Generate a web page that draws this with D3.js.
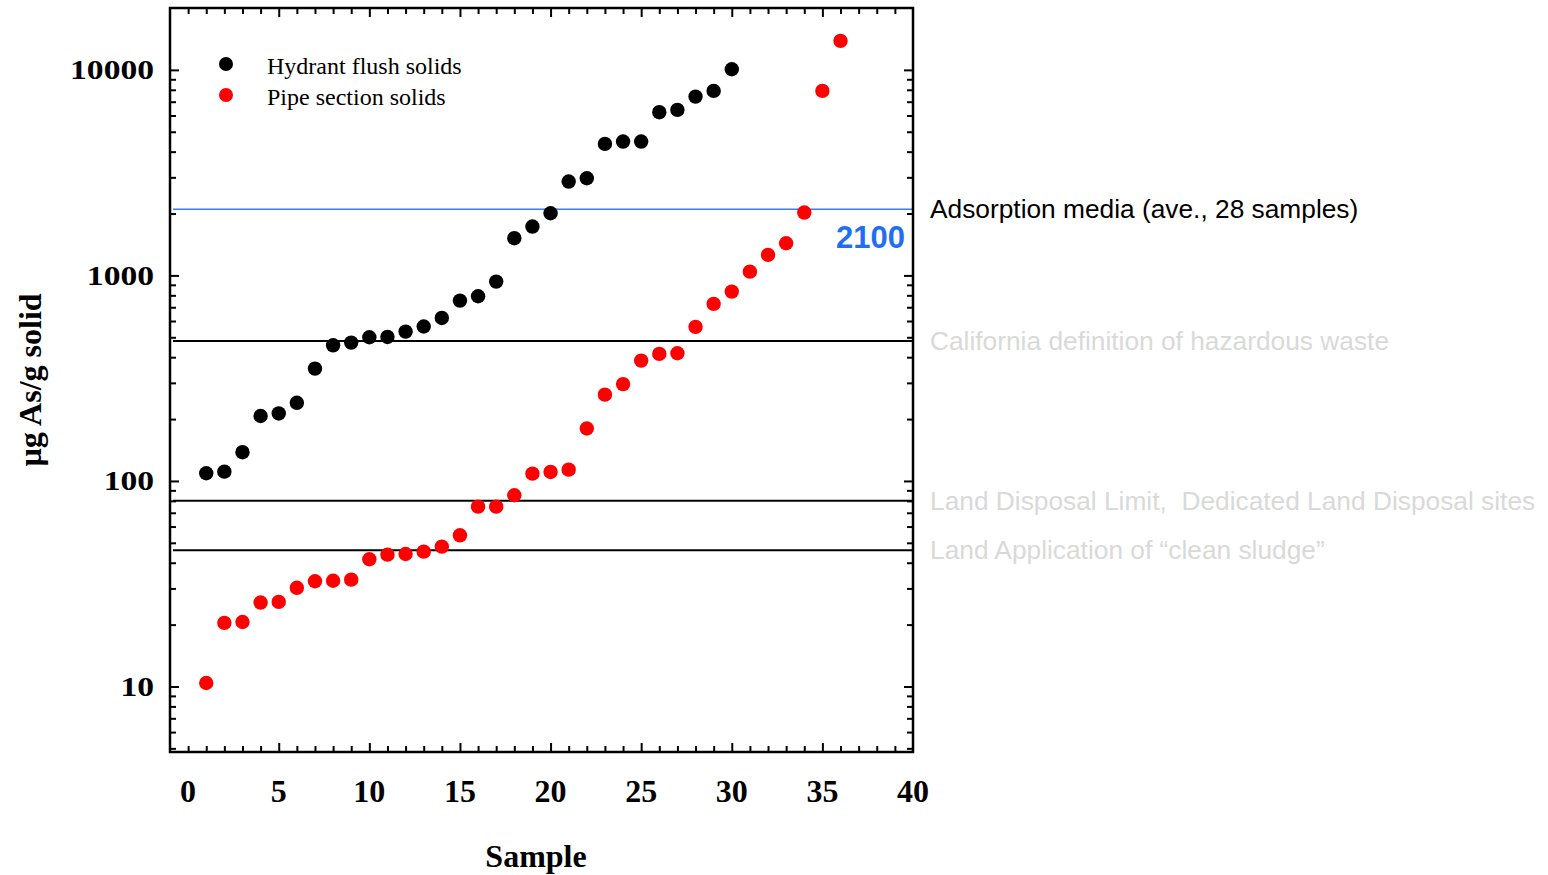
<!DOCTYPE html>
<html>
<head>
<meta charset="utf-8">
<script src="https://cdn.jsdelivr.net/npm/d3@7"></script>
<style>
  html, body { margin: 0; padding: 0; background: #ffffff; }
  svg { display: block; }
  text { white-space: pre; }
</style>
</head>
<body>
<svg id="chart" width="1548" height="875"></svg>
<script>
// Arsenic content of distribution-system solids, ranked by sample (log scale)
const hydrantSamples = d3.range(1, 31);
const hydrantValues = [
  109, 111, 138, 207, 213, 240, 352, 457, 471, 500,
  502, 533, 564, 621, 754, 792, 933, 1517, 1729, 2007,
  2862, 2970, 4364, 4480, 4480, 6225, 6389, 7413, 7902, 10070
];

const pipeSamples = d3.range(1, 37);
const pipeValues = [
  10.4, 20.4, 20.6, 25.6, 25.8, 30.2, 32.5, 32.7, 33.1, 41.6,
  43.8, 44.1, 45.3, 47.9, 54.4, 75, 75, 85.2, 108.5, 110.6,
  113.5, 180, 263, 296, 385, 415, 418, 562, 727, 834,
  1043, 1259, 1434, 2022, 7902, 13840
];

// Reference levels drawn across the plot
const refLabels = [
  "Adsorption media (ave., 28 samples)",
  "California definition of hazardous waste",
  "Land Disposal Limit,  Dedicated Land Disposal sites",
  "Land Application of \u201Cclean sludge\u201D"
];
const refValues = [2100, 480, 80, 46];

const seriesNames = ["Hydrant flush solids", "Pipe section solids"];
const seriesColors = ["#000000", "#ff0000"];

const xTickLabels = [0, 5, 10, 15, 20, 25, 30, 35, 40];
const yTickLabels = [10, 100, 1000, 10000];

const svg = d3.select("#chart");

const plotLeft = 170, plotRight = 913, plotTop = 8, plotBottom = 752;

const x = d3.scaleLinear().domain([-1, 40]).range([plotLeft, plotRight]);
const y = d3.scaleLog().domain([4.8, 20000]).range([plotBottom, plotTop]);

const serif = "'Liberation Serif', 'Times New Roman', serif";
const sans = "'Liberation Sans', Arial, sans-serif";

// ---- reference lines ----
const refColors = ["#3f7ae6", "#000000", "#000000", "#000000"];
const refWidths = [1.6, 2, 2, 2];
svg.append("g")
  .selectAll("line")
  .data(refValues)
  .join("line")
  .attr("x1", plotLeft + 3)
  .attr("x2", plotRight)
  .attr("y1", d => y(d))
  .attr("y2", d => y(d))
  .attr("stroke", (d, i) => refColors[i])
  .attr("stroke-width", (d, i) => refWidths[i]);

// ---- ticks (all pointing inward) ----
const majorX = d3.range(5, 40, 5);
const minorX = d3.range(0, 41).filter(v => v % 5 !== 0 || v === 0);
const majorY = yTickLabels;
const minorY = [];
[1, 10, 100, 1000, 10000].forEach(dec => {
  d3.range(2, 10).forEach(m => {
    const v = dec * m;
    if (v >= 5 && v < 20000) minorY.push(v);
  });
});

function tickAxis(axisFn, scale, values, size) {
  return axisFn(scale).tickValues(values).tickSize(size).tickFormat("");
}

const axes = svg.append("g").attr("class", "axes");

// bottom
axes.append("g").attr("transform", `translate(0,${plotBottom})`)
  .call(tickAxis(d3.axisBottom, x, majorX, -9));
axes.append("g").attr("transform", `translate(0,${plotBottom})`)
  .call(tickAxis(d3.axisBottom, x, minorX, -6));
// top
axes.append("g").attr("transform", `translate(0,${plotTop})`)
  .call(tickAxis(d3.axisTop, x, majorX, -9));
axes.append("g").attr("transform", `translate(0,${plotTop})`)
  .call(tickAxis(d3.axisTop, x, minorX, -6));
// left
axes.append("g").attr("transform", `translate(${plotLeft},0)`)
  .call(tickAxis(d3.axisLeft, y, majorY, -9));
axes.append("g").attr("transform", `translate(${plotLeft},0)`)
  .call(tickAxis(d3.axisLeft, y, minorY, -6));
// right
axes.append("g").attr("transform", `translate(${plotRight},0)`)
  .call(tickAxis(d3.axisRight, y, majorY, -9));
axes.append("g").attr("transform", `translate(${plotRight},0)`)
  .call(tickAxis(d3.axisRight, y, minorY, -6));

axes.selectAll(".domain").remove();
axes.selectAll(".tick line").attr("stroke", "#000").attr("stroke-width", 2);

// frame
svg.append("rect")
  .attr("x", plotLeft).attr("y", plotTop)
  .attr("width", plotRight - plotLeft).attr("height", plotBottom - plotTop)
  .attr("fill", "none")
  .attr("stroke", "#000")
  .attr("stroke-width", 2.5);

// ---- tick labels ----
svg.append("g")
  .selectAll("text")
  .data(xTickLabels)
  .join("text")
  .attr("x", d => x(d))
  .attr("y", 802)
  .attr("text-anchor", "middle")
  .attr("font-family", serif)
  .attr("font-weight", "bold")
  .attr("font-size", 32)
  .text(d => d);

svg.append("g")
  .selectAll("g")
  .data(yTickLabels)
  .join("g")
  .attr("transform", d => `translate(154,${y(d) + 9.5}) scale(1.2,1)`)
  .append("text")
  .attr("text-anchor", "end")
  .attr("font-family", serif)
  .attr("font-weight", "bold")
  .attr("font-size", 28)
  .text(d => d);

// ---- axis titles ----
svg.append("text")
  .attr("x", 536)
  .attr("y", 867)
  .attr("text-anchor", "middle")
  .attr("font-family", serif)
  .attr("font-weight", "bold")
  .attr("font-size", 32)
  .text("Sample");

svg.append("text")
  .attr("transform", "translate(41,380) rotate(-90)")
  .attr("text-anchor", "middle")
  .attr("font-family", serif)
  .attr("font-weight", "bold")
  .attr("font-size", 32)
  .text("\u00B5g As/g solid");

// ---- data points ----
const series = [
  { xs: hydrantSamples, vs: hydrantValues, color: seriesColors[0] },
  { xs: pipeSamples, vs: pipeValues, color: seriesColors[1] }
];
series.forEach(s => {
  svg.append("g")
    .selectAll("circle")
    .data(s.vs)
    .join("circle")
    .attr("cx", (d, i) => x(s.xs[i]))
    .attr("cy", d => y(d))
    .attr("r", 7.2)
    .attr("fill", s.color);
});

// ---- legend ----
const legend = svg.append("g");
seriesNames.forEach((name, i) => {
  const cy = 64 + i * 31;
  legend.append("circle")
    .attr("cx", 226).attr("cy", cy).attr("r", 7)
    .attr("fill", seriesColors[i]);
  legend.append("text")
    .attr("x", 267).attr("y", cy + 10)
    .attr("font-family", serif)
    .attr("font-size", 24)
    .attr("fill", "#000")
    .text(name);
});

// ---- reference annotations ----
const refTextColors = ["#000000", "#d9d9d9", "#d9d9d9", "#d9d9d9"];
svg.append("g")
  .selectAll("text")
  .data(refLabels)
  .join("text")
  .attr("x", 930)
  .attr("y", (d, i) => y(refValues[i]) + 9)
  .attr("font-family", sans)
  .attr("font-size", 26.3)
  .attr("fill", (d, i) => refTextColors[i])
  .text(d => d);

svg.append("text")
  .attr("x", 905)
  .attr("y", y(refValues[0]) + 39)
  .attr("text-anchor", "end")
  .attr("font-family", sans)
  .attr("font-weight", "bold")
  .attr("font-size", 31)
  .attr("fill", "#1f6ff2")
  .text(refValues[0]);
</script>
</body>
</html>
